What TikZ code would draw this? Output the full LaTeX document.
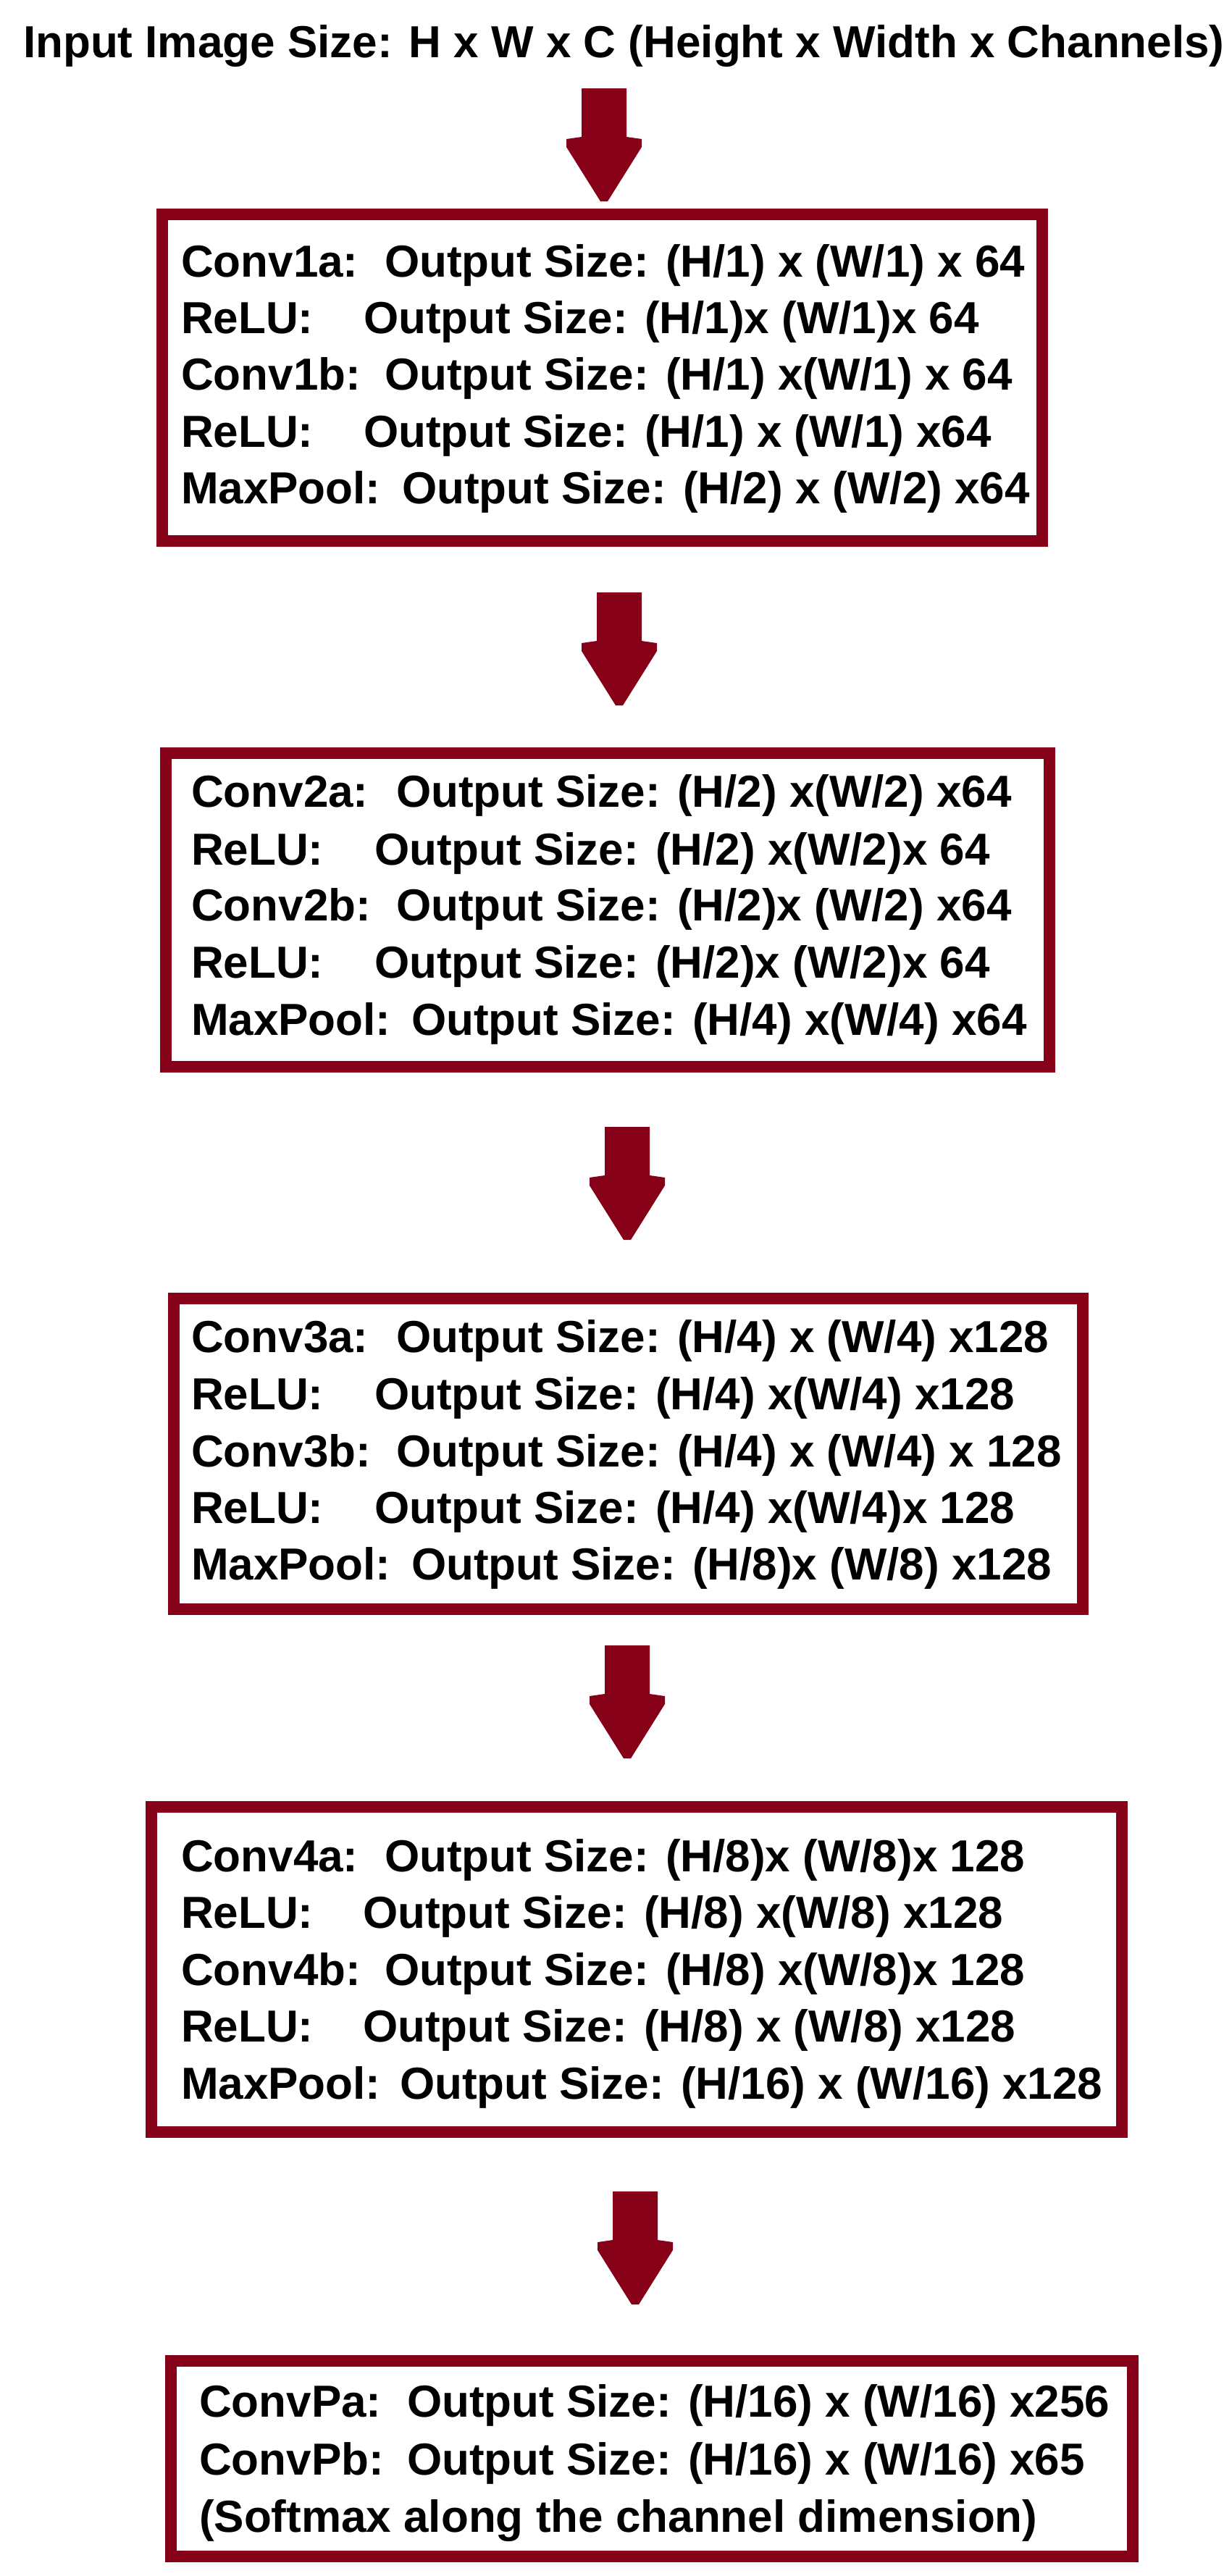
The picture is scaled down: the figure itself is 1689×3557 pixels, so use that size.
\documentclass[tikz,border=0pt]{standalone}
\usepackage{fontspec}
\setmainfont{Liberation Sans}
\usetikzlibrary{calc}
\definecolor{boxred}{RGB}{134,0,23}
\tikzset{
  txt/.style={anchor=base west,inner sep=0pt,outer sep=0pt,font=\fontsize{62}{78}\selectfont\bfseries,text=black},
  layerbox/.style={draw=boxred,line width=16pt,fill=none,inner sep=0pt,rectangle},
  arrowfill/.style={fill=boxred}
}
\newcommand\lrow[6]{%
  \node[txt] (#1l) at (#2,#3) {#4};
  \node[txt] (#1r) at (#2+#5,#3) {#6};}
\newcommand\blockarrow[2]{%
  \fill[arrowfill] let \p1=(#1), \p2=(#2) in
   (\x1-31pt,\y1) -- (\x1+31pt,\y1) -- (\x1+31pt,\y2+89pt) -- (\x1+52pt,\y2+86pt)
   -- (\x1+52pt,\y2+75pt) -- (\x1+5pt,\y2) -- (\x1-5pt,\y2) -- (\x1-52pt,\y2+75pt)
   -- (\x1-52pt,\y2+86pt) -- (\x1-31pt,\y2+89pt) -- cycle;}
\begin{document}
\begin{tikzpicture}[x=1pt,y=-1pt]
\useasboundingbox (0,0) rectangle (1689,3557);
% title
\node[txt] (title) at (32,79) {Input Image Size: H x W x C (Height x Width x Channels)};
% boxes
\node[layerbox,minimum width=1215pt,minimum height=451pt] (b1) at (831.5,521.5) {};
\node[layerbox,minimum width=1220pt,minimum height=433pt] (b2) at (839,1256.5) {};
\node[layerbox,minimum width=1255pt,minimum height=429pt] (b3) at (867.5,2007.5) {};
\node[layerbox,minimum width=1340pt,minimum height=449pt] (b4) at (879,2719.5) {};
\node[layerbox,minimum width=1328pt,minimum height=270pt] (b5) at (900,3395) {};
% arrows
\coordinate (a1s) at (834,122);  \coordinate (a1e) at (834,278);
\coordinate (a2s) at (855,818);  \coordinate (a2e) at (855,974);
\coordinate (a3s) at (866,1556); \coordinate (a3e) at (866,1712);
\coordinate (a4s) at (866,2272); \coordinate (a4e) at (866,2428);
\coordinate (a5s) at (877,3026); \coordinate (a5e) at (877,3182);
\blockarrow{a1s}{a1e}
\blockarrow{a2s}{a2e}
\blockarrow{a3s}{a3e}
\blockarrow{a4s}{a4e}
\blockarrow{a5s}{a5e}
% box 1
\lrow{r11}{250}{382}{Conv1a:}{281}{Output Size: (H/1) x (W/1) x 64}
\lrow{r12}{250}{460}{ReLU:}{252}{Output Size: (H/1)x (W/1)x 64}
\lrow{r13}{250}{538}{Conv1b:}{281}{Output Size: (H/1) x(W/1) x 64}
\lrow{r14}{250}{617}{ReLU:}{252}{Output Size: (H/1) x (W/1) x64}
\lrow{r15}{250}{695}{MaxPool:}{305}{Output Size: (H/2) x (W/2) x64}
% box 2
\lrow{r21}{264}{1114}{Conv2a:}{283}{Output Size: (H/2) x(W/2) x64}
\lrow{r22}{264}{1194}{ReLU:}{253}{Output Size: (H/2) x(W/2)x 64}
\lrow{r23}{264}{1271}{Conv2b:}{283}{Output Size: (H/2)x (W/2) x64}
\lrow{r24}{264}{1350}{ReLU:}{253}{Output Size: (H/2)x (W/2)x 64}
\lrow{r25}{264}{1429}{MaxPool:}{304}{Output Size: (H/4) x(W/4) x64}
% box 3
\lrow{r31}{264}{1867}{Conv3a:}{283}{Output Size: (H/4) x (W/4) x128}
\lrow{r32}{264}{1946}{ReLU:}{253}{Output Size: (H/4) x(W/4) x128}
\lrow{r33}{264}{2025}{Conv3b:}{283}{Output Size: (H/4) x (W/4) x 128}
\lrow{r34}{264}{2103}{ReLU:}{253}{Output Size: (H/4) x(W/4)x 128}
\lrow{r35}{264}{2181}{MaxPool:}{304}{Output Size: (H/8)x (W/8) x128}
% box 4
\lrow{r41}{250}{2584}{Conv4a:}{281}{Output Size: (H/8)x (W/8)x 128}
\lrow{r42}{250}{2662}{ReLU:}{251}{Output Size: (H/8) x(W/8) x128}
\lrow{r43}{250}{2741}{Conv4b:}{281}{Output Size: (H/8) x(W/8)x 128}
\lrow{r44}{250}{2819}{ReLU:}{251}{Output Size: (H/8) x (W/8) x128}
\lrow{r45}{250}{2898}{MaxPool:}{302}{Output Size: (H/16) x (W/16) x128}
% box 5
\lrow{r51}{275}{3337}{ConvPa:}{287}{Output Size: (H/16) x (W/16) x256}
\lrow{r52}{275}{3417}{ConvPb:}{287}{Output Size: (H/16) x (W/16) x65}
\node[txt] (r53) at (275,3496) {(Softmax along the channel dimension)};
\end{tikzpicture}
\end{document}
